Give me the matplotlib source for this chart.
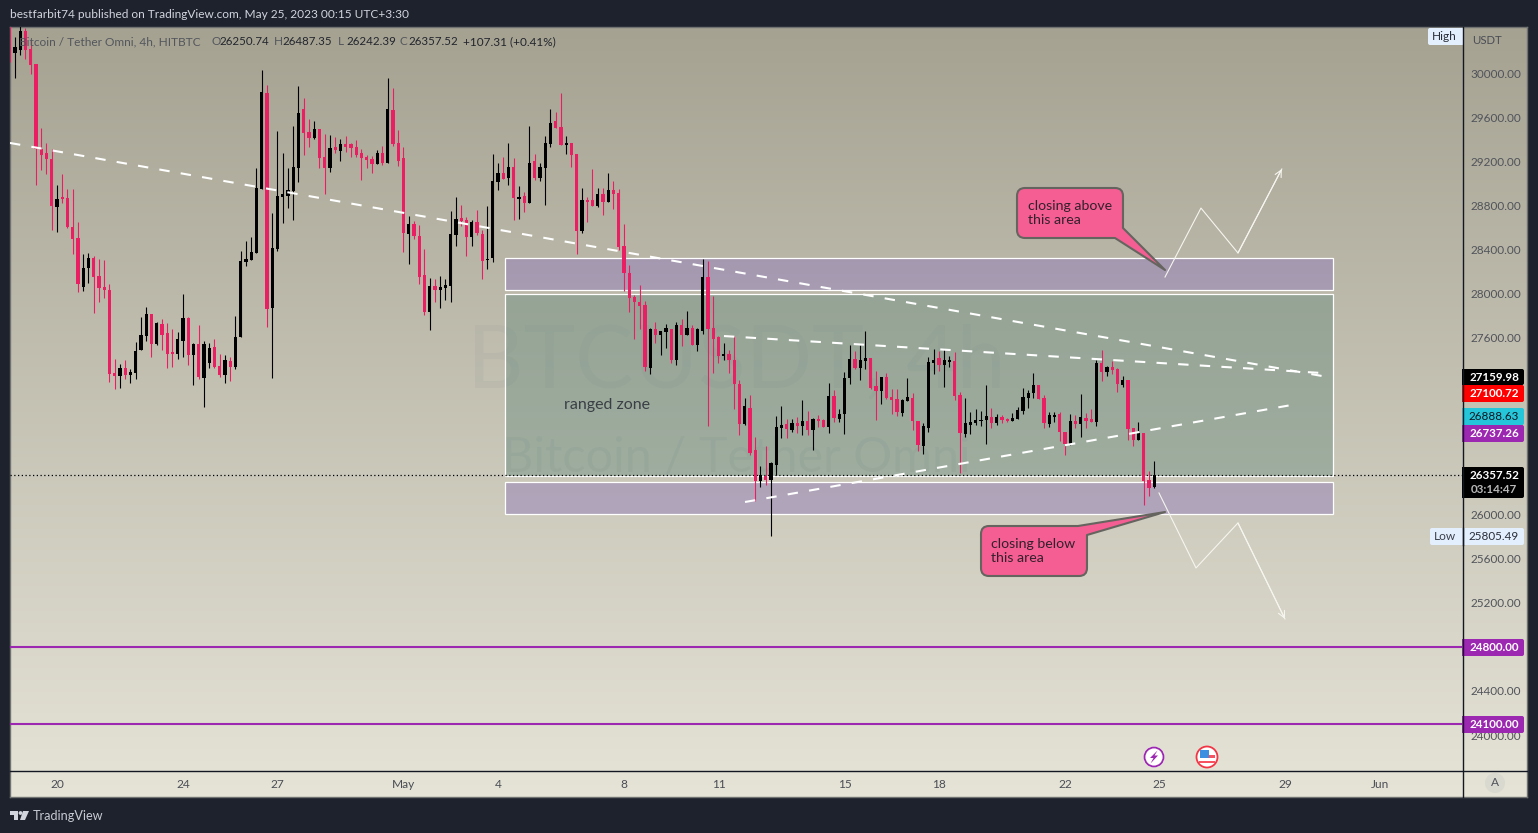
import numpy as np
import matplotlib
matplotlib.use('Agg')
import matplotlib.pyplot as plt
from matplotlib.patches import FancyBboxPatch, Circle, Polygon, PathPatch, Rectangle
from matplotlib.path import Path

plt.rcParams['font.family'] = ['Lato', 'DejaVu Sans']

# 4h candles, first bar sits 9 bars before Apr 20 00:00
first_bar = -9
opens = [
    30380, 30178, 30208, 30380, 30214, 30081, 29308, 29272, 29220,
    28786, 28876, 28864, 28604, 28505, 28061, 28233, 28324, 28160, 28061,
    28034, 27282, 27254, 27327, 27263, 27282, 27490, 27617, 27816, 27544,
    27726, 27644, 27472, 27454, 27572, 27780, 27445, 27544, 27236, 27372,
    27517, 27345, 27263, 27390, 27336, 27608, 28287, 28305, 28369, 28949,
    29818, 27871, 28405, 28876, 28885, 28931, 29139, 29673, 29465, 29411,
    29492, 29239, 29139, 29329, 29293, 29356, 29356, 29329, 29275, 29239,
    29220, 29175, 29275, 29184, 29664, 29365, 29230, 28542, 28632, 28524,
    28170, 27835, 28071, 28034, 28053, 28071, 28533, 28687, 28669, 28515,
    28650, 28542, 28306, 28324, 29013, 29094, 29049, 29149, 28859, 28886,
    28823, 29203, 29049, 29140, 29357, 29566, 29511, 29348, 29366, 29267,
    28569, 28850, 28850, 28795, 28904, 28832, 28940, 28913, 28433, 28188,
    27971, 27926, 27899, 27328, 27681, 27627, 27654, 27681, 27400, 27717,
    27627, 27690, 27536, 27663, 28152, 27690, 27609, 27436, 27455, 27400,
    27183, 26820, 26965, 26585, 26304, 26349, 26313, 26449, 26784, 26820,
    26765, 26829, 26802, 26847, 26765, 26865, 26856, 26793, 27073, 26865,
    26910, 27237, 27409, 27327, 27391, 27418, 27164, 27119, 27246, 27064,
    27046, 26919, 27028, 27055, 26847, 26620, 26784, 27372, 27418, 27354,
    27381, 27391, 27082, 26729, 26811, 26829, 26847, 26856, 26883, 26829,
    26883, 26865, 26847, 26865, 26938, 27055, 27101, 27173, 27055, 26820,
    26883, 26910, 26747, 26639, 26847, 26820, 26874, 26865, 26838, 27372,
    27291, 27336, 27318, 27173, 27218, 26784, 26675, 26738, 26312, 26250.74,
]
highs = [
    30430, 30329, 30450, 30404, 30299, 30081, 29498, 29362, 29308,
    28982, 29085, 28946, 28946, 28647, 28360, 28366, 28345, 28314, 28305,
    28088, 27408, 27363, 27399, 27318, 27562, 27789, 27880, 27816, 27744,
    27771, 27735, 27680, 27653, 27997, 27789, 27553, 27716, 27572, 27553,
    27590, 27454, 27445, 27427, 27798, 28387, 28478, 28514, 29139, 30027,
    29891, 28731, 29474, 29275, 29139, 29519, 29882, 29773, 29583, 29565,
    29492, 29447, 29438, 29420, 29402, 29429, 29365, 29393, 29311, 29257,
    29248, 29302, 29338, 29954, 29864, 29483, 29330, 28705, 28660, 28623,
    28406, 28143, 28134, 28161, 28134, 28750, 28877, 28804, 28696, 28669,
    28759, 28578, 28795, 29267, 29185, 29239, 29366, 29230, 28977, 28922,
    29520, 29267, 29185, 29430, 29674, 29647, 29819, 29430, 29366, 29267,
    28959, 28877, 29131, 28959, 28959, 29094, 29022, 28949, 28632, 28261,
    27989, 28080, 27935, 27690, 27744, 27663, 27726, 27681, 27744, 27772,
    27844, 27717, 27690, 28315, 28297, 27980, 27618, 27554, 27491, 27618,
    27219, 27056, 27083, 26703, 26440, 26621, 26476, 26893, 26983, 26865,
    26865, 26886, 27037, 26938, 26874, 26901, 26865, 27191, 27128, 26956,
    27291, 27535, 27481, 27535, 27662, 27418, 27300, 27246, 27282, 27137,
    27137, 27046, 27237, 27101, 26847, 26829, 27427, 27499, 27481, 27499,
    27436, 27472, 27110, 27055, 26928, 26956, 26938, 27173, 26965, 26910,
    26901, 26874, 26919, 26974, 27146, 27128, 27282, 27173, 27082, 26928,
    26928, 26928, 26747, 26910, 26901, 27092, 26919, 26956, 27400, 27490,
    27345, 27390, 27327, 27255, 27218, 26784, 26838, 26738, 26394, 26487.35,
]
lows = [
    30102, 29957, 30163, 30123, 29991, 28985, 29121, 29085, 28577,
    28559, 28825, 28592, 28360, 28015, 28025, 28097, 27825, 27925, 27958,
    27200, 27137, 27146, 27227, 27191, 27227, 27490, 27572, 27427, 27535,
    27490, 27327, 27336, 27408, 27427, 27354, 27173, 27227, 26974, 27327,
    27327, 27245, 27191, 27209, 27318, 27608, 28251, 28305, 28369, 28949,
    27698, 27236, 28387, 28641, 28777, 28668, 29012, 29257, 29329, 29402,
    29139, 28903, 29103, 29275, 29202, 29284, 29239, 29239, 29030, 29139,
    29094, 29175, 29166, 29184, 29340, 29157, 28379, 28270, 28496, 28089,
    27808, 27672, 27926, 27871, 27944, 27926, 28433, 28614, 28342, 28433,
    28533, 28134, 28225, 28288, 28940, 29040, 28986, 28669, 28678, 28741,
    28823, 29031, 29022, 28804, 29330, 29502, 29348, 29267, 29149, 28361,
    28551, 28650, 28795, 28786, 28714, 28832, 28768, 28397, 28025, 27835,
    27590, 27681, 27301, 27273, 27554, 27445, 27509, 27373, 27355, 27527,
    27627, 27536, 27482, 27636, 26802, 27283, 27373, 27400, 27283, 26956,
    26721, 26811, 26540, 26123, 26250, 26268, 25805.49, 26358, 26693, 26693,
    26747, 26738, 26720, 26720, 26584, 26793, 26793, 26738, 26838, 26838,
    26729, 27182, 27318, 27218, 27318, 27137, 26856, 27001, 27046, 26910,
    26892, 26892, 27028, 26765, 26575, 26548, 26747, 27273, 27300, 27155,
    27336, 27037, 26376, 26702, 26729, 26811, 26802, 26639, 26784, 26811,
    26829, 26838, 26847, 26865, 26910, 26965, 27055, 27046, 26784, 26793,
    26838, 26666, 26539, 26630, 26784, 26702, 26784, 26838, 26802, 27209,
    27255, 27273, 27110, 27155, 26675, 26620, 26675, 26086, 26167, 26242.39,
]
closes = [
    30178, 30238, 30380, 30208, 30072, 29308, 29257, 29220, 28795,
    28858, 28858, 28607, 28496, 28088, 28233, 28324, 28151, 28052, 28034,
    27273, 27254, 27327, 27263, 27291, 27481, 27626, 27816, 27544, 27735,
    27626, 27454, 27454, 27590, 27780, 27445, 27544, 27245, 27544, 27508,
    27336, 27263, 27399, 27336, 27608, 28296, 28314, 28378, 28958, 29827,
    27861, 28414, 28885, 28903, 28940, 29148, 29637, 29456, 29411, 29492,
    29230, 29139, 29320, 29302, 29356, 29329, 29320, 29257, 29230, 29211,
    29175, 29275, 29184, 29673, 29356, 29202, 28554, 28632, 28524, 28152,
    27835, 28071, 28034, 28062, 28080, 28542, 28678, 28660, 28515, 28650,
    28551, 28297, 28315, 29022, 29094, 29040, 29149, 28868, 28877, 28823,
    29185, 29049, 29149, 29366, 29547, 29502, 29348, 29366, 29257, 28569,
    28850, 28832, 28795, 28904, 28832, 28940, 28904, 28424, 28188, 27962,
    27926, 27889, 27337, 27681, 27627, 27663, 27690, 27400, 27717, 27627,
    27690, 27536, 27681, 28152, 27681, 27590, 27436, 27455, 27400, 27183,
    26820, 26983, 26558, 26304, 26358, 26313, 26467, 26793, 26811, 26774,
    26829, 26802, 26847, 26765, 26865, 26847, 26793, 27073, 26874, 26910,
    27237, 27409, 27327, 27400, 27418, 27146, 27119, 27246, 27055, 27037,
    26929, 27037, 27064, 26847, 26629, 26802, 27381, 27400, 27354, 27400,
    27400, 27073, 26738, 26829, 26838, 26856, 26856, 26892, 26829, 26883,
    26856, 26847, 26874, 26947, 27064, 27101, 27173, 27046, 26829, 26901,
    26901, 26747, 26639, 26847, 26820, 26883, 26847, 26838, 27372, 27291,
    27336, 27309, 27182, 27218, 26774, 26675, 26738, 26303, 26240, 26357.52,
]

# axis labels
date_bars = [0, 24, 42, 66, 84, 108, 126, 150, 168, 192, 210, 234, 252]
date_labels = ['20', '24', '27', 'May', '4', '8', '11', '15', '18', '22', '25', '29', 'Jun']
price_ticks = [24000, 24400, 25200, 25600, 26000, 27600, 28000, 28400, 28800, 29200, 29600, 30000]

# drawings: (bar, price) pairs
trend_lines = [
    ((-8.95, 29366), (240.95, 27254)),
    ((127.05, 27616), (240.95, 27281)),
    ((131.05, 26112), (236.2, 27000)),
]
zones = [  # bar_from, bar_to, price_low, price_high, fill
    (85.24, 243.14, 28033, 28323, (0.42, 0.27, 0.80, 0.25)),
    (85.24, 243.14, 26348, 27993, (0.37, 0.52, 0.47, 0.40)),
    (85.24, 243.14, 25999, 26289, (0.35, 0.20, 0.70, 0.25)),
]
zigzag_up_bars = [211.05, 217.9, 224.95, 233.3]
zigzag_up_prices = [28151, 28776, 28369, 29130]
zigzag_down_bars = [209.9, 216.95, 224.95, 233.9]
zigzag_down_prices = [26194, 25514, 25922, 25052]
level_lines = [24800.00, 24100.00]
last_price = 26357.52

W, H = 1538, 833
BG_DARK = '#1e222d'
fig = plt.figure(figsize=(W / 100, H / 100), dpi=100, facecolor=BG_DARK)


def axes_px(left, top, right, bottom, **kw):
    return fig.add_axes([left / W, 1 - bottom / H, (right - left) / W, (bottom - top) / H], **kw)


# gradient behind the whole chart
bg_ax = axes_px(10, 27, 1527, 797)
grad = np.linspace(0, 1, 256)[:, None, None]
top_col = np.array([165, 162, 146]) / 255
bot_col = np.array([230, 228, 215]) / 255
bg_ax.imshow(top_col + (bot_col - top_col) * grad, aspect='auto', extent=(0, 1, 0, 1))
bg_ax.set_xticks([])
bg_ax.set_yticks([])
for s in bg_ax.spines.values():
    s.set_color('#6f7270')
    s.set_linewidth(1)

# main pane
ax = axes_px(10, 27, 1462, 770)
ax.patch.set_alpha(0)
ax.set_xlim(-8.95, 267.62)
ax.set_ylim(23683, 30417)
for s in ax.spines.values():
    s.set_visible(False)

ax.yaxis.tick_right()
ax.set_yticks(price_ticks)
ax.set_yticklabels(['%.2f' % p for p in price_ticks], fontsize=8.5, color='#50535a')
ax.tick_params(axis='y', length=0, pad=5.8)
ax.set_xticks(date_bars)
ax.set_xticklabels(date_labels, fontsize=8.6, color='#4a4d55')
ax.tick_params(axis='x', length=0, pad=6.5)

# watermark
ax.text(0.5, 0.548, 'BTCUSDT, 4h', transform=ax.transAxes, fontsize=63, color='#8a9692', alpha=0.13,
        ha='center', va='center', zorder=0.5)
ax.text(0.5, 0.42, 'Bitcoin / Tether Omni', transform=ax.transAxes, fontsize=35, color='#8a9692', alpha=0.16,
        ha='center', va='center', zorder=0.5)

for bar_from, bar_to, low, high, fill in zones:
    ax.add_patch(Rectangle((bar_from, low), bar_to - bar_from, high - low, facecolor=fill,
                           edgecolor='white', linewidth=0.9, zorder=1))

# candles
bars = np.arange(first_bar, first_bar + len(opens))
o = np.array(opens)
c = np.array(closes)
colors = ['#000000' if cl >= op else '#e91e63' for op, cl in zip(opens, closes)]
ax.vlines(bars, lows, highs, colors=colors, linewidth=0.8, zorder=3)
ax.bar(bars, np.abs(c - o), bottom=np.minimum(o, c), width=0.6, color=colors, linewidth=0, zorder=3)

for (x0, y0), (x1, y1) in trend_lines:
    ax.plot([x0, x1], [y0, y1], color='white', linewidth=1.5, linestyle=(0, (5, 5.4)),
            dash_capstyle='butt', zorder=4)

ax.plot(zigzag_up_bars, zigzag_up_prices, color='#f6f5ef', linewidth=0.8, zorder=4)
ax.plot(zigzag_down_bars, zigzag_down_prices, color='#f6f5ef', linewidth=0.8, zorder=4)
for xs, ys in ((zigzag_up_bars, zigzag_up_prices), (zigzag_down_bars, zigzag_down_prices)):
    ax.annotate('', xy=(xs[-1], ys[-1]), xytext=(xs[-2], ys[-2]),
                arrowprops=dict(arrowstyle='->', color='#f6f5ef', lw=0.8, mutation_scale=12, shrinkA=0, shrinkB=0),
                zorder=4)

for level in level_lines:
    ax.axhline(level, color='#9c27b0', linewidth=1.5, zorder=2)
ax.axhline(last_price, color='#000000', linewidth=0.9, linestyle=(0, (1, 2)), zorder=2)

# overlay in pixel coordinates for labels and widgets
ov = fig.add_axes([0, 0, 1, 1])
ov.set_xlim(0, W)
ov.set_ylim(H, 0)
ov.axis('off')
ov.patch.set_alpha(0)

ov.plot([1462.5, 1462.5], [27, 797], color='#131722', linewidth=1)
ov.plot([10, 1527], [770.5, 770.5], color='#131722', linewidth=1)


def txt(x, y, s, size=8.5, color='#131722', ha='left', **kw):
    return ov.text(x, y, s, fontsize=size, color=color, ha=ha, va='center', **kw)


def badge(top, bottom, face, left=1462, right=1524):
    ov.add_patch(FancyBboxPatch((left + 2, top + 2), right - left - 4, bottom - top - 4, boxstyle='round,pad=2',
                                facecolor=face, edgecolor='none'))
    ov.add_patch(Rectangle((left, top), 4, bottom - top, facecolor=face, edgecolor='none'))


L, C3 = Path.LINETO, Path.CURVE3


def callout(x0, y0, x1, y1, right_verts, right_codes, r=8):
    # box with rounded left corners, right side and tail handed in by the caller
    verts = [(x0 + r, y0)] + right_verts
    codes = [Path.MOVETO] + right_codes
    verts += [(x0 + r, y1), (x0, y1), (x0, y1 - r), (x0, y0 + r), (x0, y0), (x0 + r, y0), (x0 + r, y0)]
    codes += [L, C3, C3, L, C3, C3, Path.CLOSEPOLY]
    ov.add_patch(PathPatch(Path(verts, codes), facecolor='#f45e92', edgecolor='#66645f', linewidth=1.5,
                           joinstyle='round'))


callout(1017, 188, 1123, 238,
        [(1115, 188), (1123, 188), (1123, 196), (1123, 228), (1165, 270), (1115, 238)],
        [L, C3, C3, L, L, L])
callout(981, 526, 1087, 576,
        [(1078, 526), (1165, 512), (1087, 535), (1087, 568), (1087, 576), (1079, 576)],
        [L, L, L, L, C3, C3])
txt(1028, 205.5, 'closing above', size=10.2, color='#33202c')
txt(1028, 219.5, 'this area', size=10.2, color='#33202c')
txt(991, 543.5, 'closing below', size=10.2, color='#33202c')
txt(991, 557.5, 'this area', size=10.2, color='#33202c')
txt(564, 404.5, 'ranged zone', size=11.5, color='#3a3f45')

# header and legend
txt(10, 14, 'bestfarbit74 published on TradingView.com, May 25, 2023 00:15 UTC+3:30', size=8.6, color='#d1d4dc')
txt(19, 41.5, 'Bitcoin / Tether Omni, 4h, HITBTC', size=8.6, color='#53565c')
for x, key, val in ((211, 'O', '26250.74'), (274, 'H', '26487.35'), (338, 'L', '26242.39'), (400, 'C', '26357.52')):
    txt(x, 41.5, key, size=8.5, color='#53565c')
    txt(x + 8.5, 41.5, val, size=8.3, color='#22252c')
txt(463, 41.5, '+107.31 (+0.41%)', size=8.5, color='#22252c')

# price scale widgets
txt(1472, 40, 'USDT', size=8.2, color='#4a4d55')
ov.add_patch(FancyBboxPatch((1430, 30), 32, 13, boxstyle='round,pad=2', facecolor='#e3effd', edgecolor='none'))
txt(1444.5, 36.5, 'High', size=8.6, color='#2a2e39', ha='center')

for top, bottom, face, label, col in (
        (369, 385, '#000000', '27159.98', 'white'),
        (385, 402, '#ff0000', '27100.72', 'white'),
        (408, 425, '#26c6da', '26888.63', '#131722'),
        (425, 442, '#9c27b0', '26737.26', 'white'),
        (639, 656, '#9c27b0', '24800.00', 'white'),
        (716, 733, '#9c27b0', '24100.00', 'white')):
    badge(top, bottom, face)
    txt(1494, (top + bottom) / 2, label, size=8.4, color=col, ha='center',
        fontweight='bold' if col == 'white' else 'normal')
badge(467, 498, '#000000')
txt(1494, 475.5, '26357.52', size=8.4, color='white', ha='center', fontweight='bold')
txt(1494, 489.5, '03:14:47', size=8.4, color='#b8b8b8', ha='center', fontweight='bold')
ov.add_patch(FancyBboxPatch((1432, 530), 90, 13, boxstyle='round,pad=2', facecolor='#e3effd', edgecolor='none'))
txt(1445, 536.5, 'Low', size=8.6, color='#3a3f4a', ha='center')
txt(1494, 536.5, '25805.49', size=8.4, color='#2a2e39', ha='center')
ov.plot([1462.5, 1462.5], [528, 545], color='#131722', linewidth=1)

# auto button
ov.add_patch(Circle((1495, 783), 10, facecolor='#dad9d0', edgecolor='none'))
txt(1495, 783, 'A', size=8.6, color='#50535a', ha='center')

# event icons
ov.add_patch(Circle((1154, 757), 10.5, facecolor='#ffffff', edgecolor='none'))
ov.add_patch(Circle((1154, 757), 9.5, facecolor='#ffffff', edgecolor='#9c27b0', linewidth=1.3))
ov.add_patch(Polygon([(1157.5, 750.5), (1150, 758), (1153.5, 758), (1150.5, 763.5), (1158, 755.5), (1154.5, 755.5)],
                     facecolor='#9c27b0', edgecolor='none'))
ov.add_patch(Circle((1207, 757), 10.5, facecolor='#ffffff', edgecolor='#f23645', linewidth=1.3))
ov.add_patch(Rectangle((1199, 760.5), 16, 2.6, facecolor='#f7525f', edgecolor='none'))
ov.add_patch(Rectangle((1203, 755), 12, 2.6, facecolor='#f7525f', edgecolor='none'))
ov.add_patch(Rectangle((1200, 750), 9, 7.5, facecolor='#3c8fe0', edgecolor='none'))

# footer logo
ov.add_patch(Polygon([(10, 811), (18, 811), (18, 820), (14, 820), (14, 815), (10, 815)],
                     facecolor='#d1d4dc', edgecolor='none'))
ov.add_patch(Circle((20.5, 813), 1.9, facecolor='#d1d4dc', edgecolor='none'))
ov.add_patch(Polygon([(23, 811), (29, 811), (25, 820), (20, 820)], facecolor='#d1d4dc', edgecolor='none'))
txt(33, 815.5, 'TradingView', size=9.1, color='#c8cbd3')

fig.savefig('out.png', dpi=100, facecolor=BG_DARK)
